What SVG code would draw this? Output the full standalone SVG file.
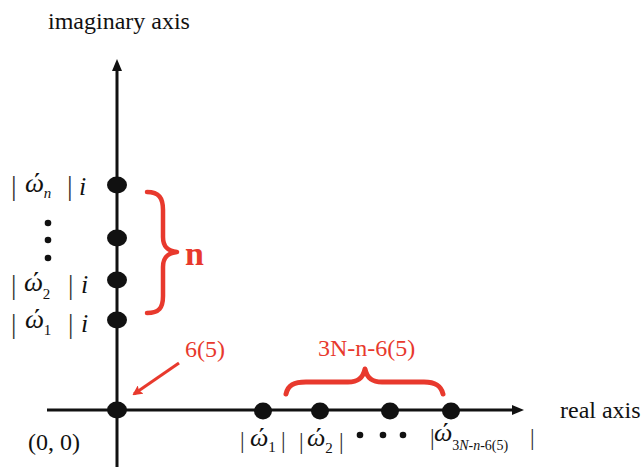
<svg xmlns="http://www.w3.org/2000/svg" width="644" height="467" viewBox="0 0 644 467">
<defs>
<style>
.t{font-family:"Liberation Serif","Times New Roman",serif;fill:#111}
.it{font-style:italic}
.up{font-style:normal}
.red{fill:#e8392d}
.ax{stroke:#111;stroke-width:3;fill:none}
.dot{fill:#111}
.br{stroke:#e8392d;fill:none;stroke-linecap:round;stroke-linejoin:round}
.bar{font-family:"Liberation Serif","Times New Roman",serif;fill:#333}
</style>
<marker id="ra" markerWidth="10" markerHeight="10" refX="8" refY="5" orient="auto" markerUnits="userSpaceOnUse"><path d="M0,0 L10,5 L0,10 L2,5 Z" fill="#e8392d"/></marker>
</defs>
<rect width="644" height="467" fill="#fff"/>
<g id="axes">
<line class="ax" x1="117" y1="467" x2="117" y2="68"/>
<polygon points="117,59 112,71 122,71" fill="#111"/>
<line class="ax" x1="47" y1="410" x2="514" y2="410"/>
<polygon points="524,410 512,405 512,415" fill="#111"/>
</g>
<g id="labels-axes">
<text class="t" x="48" y="29" font-size="24">imaginary axis</text>
<text class="t" x="560" y="418" font-size="24">real axis</text>
<text class="t" x="28" y="450" font-size="24">(0, 0)</text>
</g>
<g id="origin"><ellipse class="dot" cx="117" cy="410" rx="10" ry="8.5"/></g>
<g id="imag-dots">
<ellipse class="dot" cx="117" cy="185" rx="10" ry="8.5"/>
<ellipse class="dot" cx="117" cy="238" rx="10" ry="8.5"/>
<ellipse class="dot" cx="117" cy="280" rx="10" ry="8.5"/>
<ellipse class="dot" cx="117" cy="320" rx="10" ry="8.5"/>
<circle class="dot" cx="48" cy="223" r="3.3"/>
<circle class="dot" cx="48" cy="240" r="3.3"/>
<circle class="dot" cx="48" cy="258" r="3.3"/>
</g>
<g id="real-dots">
<ellipse class="dot" cx="263" cy="411" rx="9" ry="8.5"/>
<ellipse class="dot" cx="320" cy="411" rx="9" ry="8.5"/>
<ellipse class="dot" cx="390" cy="411" rx="9" ry="8.5"/>
<ellipse class="dot" cx="451" cy="411" rx="9" ry="8.5"/>
<circle class="dot" cx="360" cy="435" r="3.3"/>
<circle class="dot" cx="383" cy="435" r="3.3"/>
<circle class="dot" cx="403" cy="435" r="3.3"/>
</g>
<g id="label-wn">
<text class="bar" x="11" y="195" font-size="28">|</text>
<text class="t it" x="25" y="192" font-size="27">ώ<tspan font-size="15" dy="6">n</tspan></text>
<text class="bar" x="67" y="195" font-size="28">|</text>
<text class="t it" x="79" y="195" font-size="26">i</text>
</g>
<g id="label-w2">
<text class="bar" x="11" y="294" font-size="27">|</text>
<text class="t it" x="24" y="291" font-size="27">ώ<tspan class="up" font-size="15" dy="8">2</tspan></text>
<text class="bar" x="68" y="294" font-size="27">|</text>
<text class="t it" x="81" y="293" font-size="26">i</text>
</g>
<g id="label-w1">
<text class="bar" x="11" y="333" font-size="27">|</text>
<text class="t it" x="25" y="328" font-size="27">ώ<tspan class="up" font-size="15" dy="7">1</tspan></text>
<text class="bar" x="68" y="333" font-size="27">|</text>
<text class="t it" x="81" y="332" font-size="26">i</text>
</g>
<g id="label-r1">
<text class="bar" x="240" y="448" font-size="23">|</text>
<text class="t it" x="250" y="446" font-size="26">ώ<tspan class="up" font-size="15" dy="6">1</tspan></text>
<text class="bar" x="281" y="448" font-size="23">|</text>
</g>
<g id="label-r2">
<text class="bar" x="299" y="449" font-size="23">|</text>
<text class="t it" x="307" y="446" font-size="26">ώ<tspan class="up" font-size="15" dy="7">2</tspan></text>
<text class="bar" x="339" y="449" font-size="23">|</text>
</g>
<g id="label-r3">
<text class="bar" x="430" y="445" font-size="23">|</text>
<text class="t it" x="434" y="441" font-size="26">ώ<tspan font-size="14" dy="9"><tspan class="up">3</tspan>N<tspan class="up">-</tspan>n<tspan class="up">-6(5)</tspan></tspan></text>
<text class="bar" x="530" y="445" font-size="23">|</text>
</g>
<g id="brace-n">
<path class="br" stroke-width="4.5" d="M147,192 C159,192 163,198 163,210 L163,237 C163,247 168,251 177,252 C168,253 163,257 163,267 L163,296 C163,308 159,313 147,313"/>
<text class="t red" x="185" y="265" font-size="34" font-weight="bold">n</text>
</g>
<g id="brace-3n">
<path class="br" stroke-width="5" d="M286,394 C288,385 294,382 306,382 L348,382 C358,382 363,378 365,369 C367,378 372,382 382,382 L424,382 C436,382 441,386 443,394"/>
<text class="t red" x="318" y="356" font-size="24">3N-n-6(5)</text>
</g>
<g id="note-65">
<text class="t red" x="185" y="357" font-size="24">6(5)</text>
</g>
<g id="connectors">
<line x1="179" y1="363" x2="134" y2="394" stroke="#e8392d" stroke-width="3" marker-end="url(#ra)"/>
</g>
</svg>
